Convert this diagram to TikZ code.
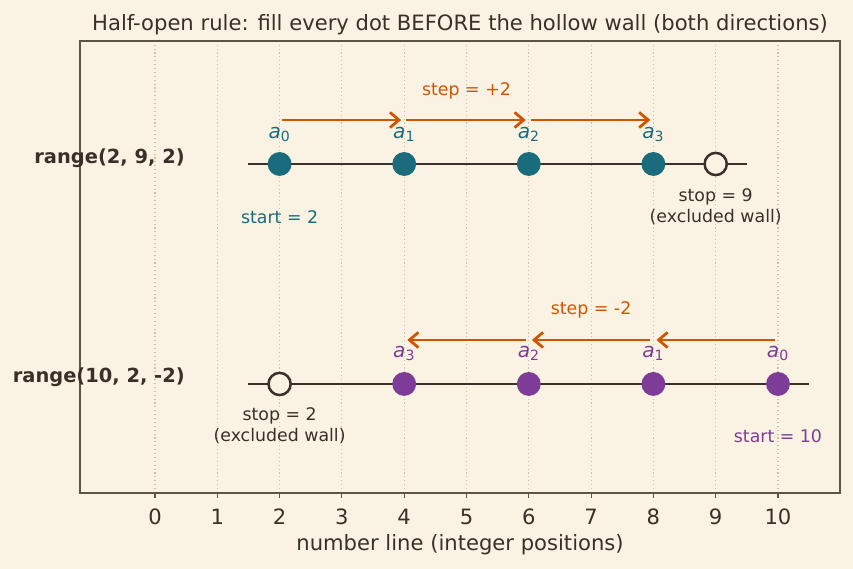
\documentclass[tikz,border=0pt]{standalone}
\usepackage{fontspec}
\setmainfont{DejaVu Sans}
\usepackage{xcolor}
\definecolor{paper-bg}{HTML}{FAF3E4}
\definecolor{ink-main}{HTML}{3A3027}
\definecolor{frame-main}{HTML}{5C5446}
\definecolor{grid-soft}{HTML}{CDBFA8}
\definecolor{fwd-teal}{HTML}{1A6B7C}
\definecolor{back-purple}{HTML}{7D3C98}
\definecolor{step-orange}{HTML}{D35400}
\usetikzlibrary{arrows.meta}
\newcommand{\idx}[1]{\textit{a}\textsubscript{#1}}

\begin{document}
\begin{tikzpicture}[x=44.86pt, y=158.4pt,
    dotfill/.style={circle, inner sep=0pt, minimum size=17.2pt},
    wallring/.style={circle, draw=ink-main, fill=paper-bg, line width=1.8pt, inner sep=0pt, minimum size=16pt},
    steparrow/.style={step-orange, line width=2pt, -{Straight Barb[length=6.5pt, width=11pt]}},
    note/.style={font=\fontsize{12.5}{15}\selectfont, align=center, inner sep=0pt},
    idxlabel/.style={font=\fontsize{14.5}{16}\selectfont, inner sep=0pt},
    rowlabel/.style={font=\fontsize{14}{16}\selectfont\bfseries, text=ink-main, anchor=east, inner sep=0pt},
    axistext/.style={font=\fontsize{15.2}{18}\selectfont, text=ink-main}]

    % Background
    \fill[paper-bg] (-2.488, -0.8409) rectangle (11.204, 1.7455);
    \useasboundingbox (-2.488, -0.8409) rectangle (11.204, 1.7455);

    % Grid and ticks
    \foreach \x in {0,...,10} {
        \draw[grid-soft, line width=0.8pt, dotted] (\x, -0.4955) -- (\x, 1.559);
        \draw[frame-main, line width=0.8pt] (\x, -0.4955) -- (\x, -0.5205);
        \node[axistext] (tick\x) at (\x, -0.6045) {\x};
    }

    % Frame
    \draw[frame-main, line width=1.1pt] (-1.204, -0.4955) rectangle (10.995, 1.559);

    % Title and axis label
    \node[axistext] (title) at (4.896, 1.632)
        {Half-open rule: fill every dot BEFORE the hollow wall (both directions)};
    \node[axistext] (xlabel) at (4.896, -0.732)
        {number line (integer positions)};

    % Forward row
    \coordinate (fwdL) at (1.5, 1);
    \coordinate (fwdR) at (9.5, 1);
    \draw[ink-main, line width=1.4pt] (fwdL) -- (fwdR);
    \node[rowlabel] (fwdname) at (0.4815, 1.027) {range(2, 9, 2)};
    \node[wallring] (fwdstop) at (9, 1) {};
    \foreach \x/\i in {2/0, 4/1, 6/2, 8/3} {
        \node[dotfill, fill=fwd-teal] (f\i) at (\x, 1) {};
        \node[idxlabel, text=fwd-teal] (fa\i) at (\x, 1.135) {\idx{\i}};
        \coordinate (fu\i) at (\x, 1.2);
    }
    \foreach \i/\j in {0/1, 1/2, 2/3}
        \draw[steparrow] ([xshift=1.4pt]fu\i) -- ([xshift=-2.2pt]fu\j);
    \node[note, text=step-orange] (fwdstep) at (5, 1.332) {step = +2};
    \node[note, text=fwd-teal] (fwdstart) at (2, 0.759) {start = 2};
    \node[note, text=ink-main] (fwdwall) at (9, 0.805) {stop = 9\\(excluded wall)};

    % Backward row
    \coordinate (bwdL) at (1.5, 0);
    \coordinate (bwdR) at (10.5, 0);
    \draw[ink-main, line width=1.4pt] (bwdL) -- (bwdR);
    \node[rowlabel] (bwdname) at (0.4815, 0.032) {range(10, 2, -2)};
    \node[wallring] (bwdstop) at (2, 0) {};
    \foreach \x/\i in {10/0, 8/1, 6/2, 4/3} {
        \node[dotfill, fill=back-purple] (b\i) at (\x, 0) {};
        \node[idxlabel, text=back-purple] (ba\i) at (\x, 0.139) {\idx{\i}};
        \coordinate (bu\i) at (\x, 0.2);
    }
    \foreach \i/\j in {0/1, 1/2, 2/3}
        \draw[steparrow] ([xshift=-2.2pt]bu\i) -- ([xshift=2.2pt]bu\j);
    \node[note, text=step-orange] (bwdstep) at (7, 0.336) {step = -2};
    \node[note, text=back-purple] (bwdstart) at (10, -0.236) {start = 10};
    \node[note, text=ink-main] (bwdwall) at (2, -0.191) {stop = 2\\(excluded wall)};

\end{tikzpicture}
\end{document}
